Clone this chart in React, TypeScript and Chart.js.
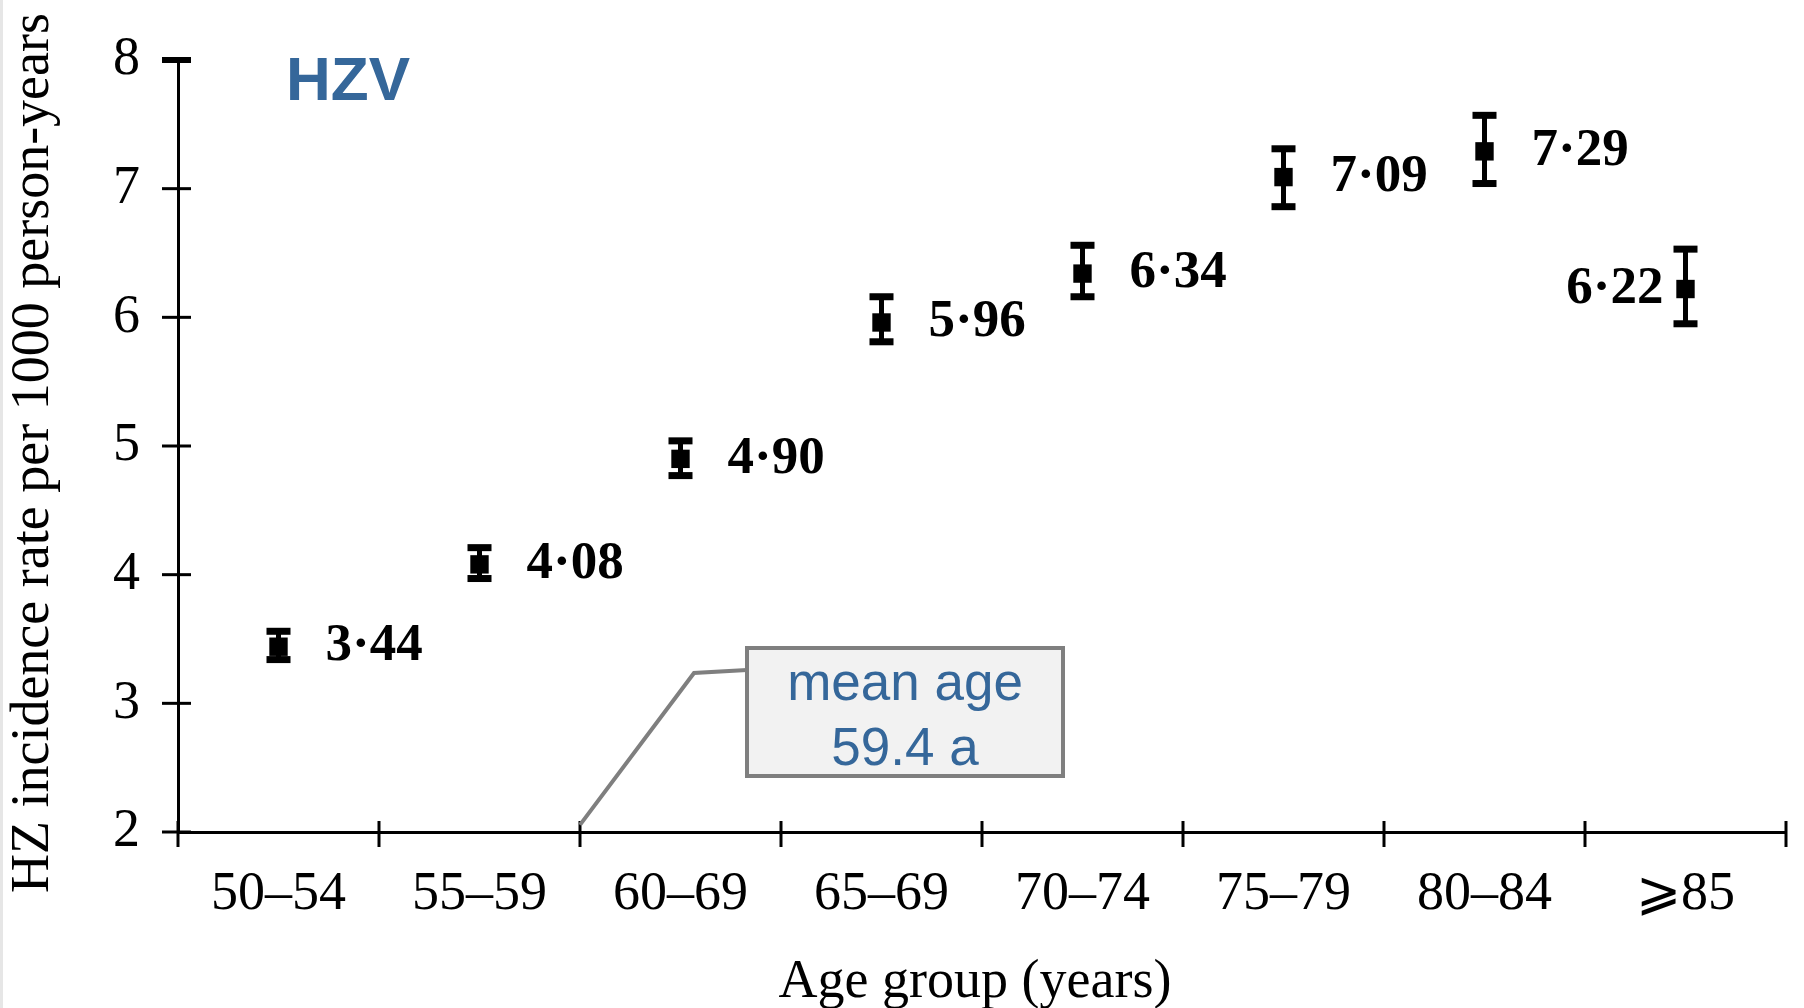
import { useEffect, useRef } from 'react';
import { Chart, registerables } from 'chart.js';

Chart.register(...registerables);

// Herpes zoster incidence per 1000 person-years by age group, with 95% CI
const ageGroups = ['50–54', '55–59', '60–69', '65–69', '70–74', '75–79', '80–84', '⩾85'];
const incidence = [3.44, 4.08, 4.90, 5.96, 6.34, 7.09, 7.29, 6.22];
const ciLower = [3.34, 3.97, 4.77, 5.81, 6.16, 6.86, 7.04, 5.95];
const ciUpper = [3.56, 4.21, 5.04, 6.16, 6.56, 7.31, 7.57, 6.53];
const yTickValues = [2, 3, 4, 5, 6, 7, 8];

const panelTitle = 'HZV';
const xTitle = 'Age group (years)';
const yTitle = 'HZ incidence rate per 1000 person-years';
const meanAgeLines = ['mean age', '59.4 a'];
// the callout points at the boundary between 55–59 and 60–69
const meanAgeCategoryPos = 1.5;

const SERIF = '"Liberation Serif", "Times New Roman", Times, serif';
const SANS = '"Liberation Sans", Arial, Helvetica, sans-serif';
const BLUE = '#35679a';
const CALLOUT_GREY = '#7f7f7f';

const formatRate = (v: number) => v.toFixed(2).replace('.', '\u00B7');

const figurePlugin = {
  id: 'figureDecorations',
  beforeDraw(chart: any) {
    const { ctx, width, height } = chart;
    ctx.save();
    ctx.fillStyle = '#ffffff';
    ctx.fillRect(0, 0, width, height);
    ctx.fillStyle = '#e6e6e6';
    ctx.fillRect(0, 0, 3, height);
    ctx.restore();
  },
  beforeDatasetsDraw(chart: any) {
    const { ctx, scales } = chart;
    const x = scales.x;
    const y = scales.y;
    ctx.save();
    ctx.strokeStyle = '#000';
    ctx.fillStyle = '#000';
    ctx.lineCap = 'butt';
    incidence.forEach((_, i) => {
      const px = x.getPixelForValue(i);
      const yLo = y.getPixelForValue(ciLower[i]);
      const yHi = y.getPixelForValue(ciUpper[i]);
      ctx.lineWidth = 5;
      ctx.beginPath();
      ctx.moveTo(px, yLo);
      ctx.lineTo(px, yHi);
      ctx.stroke();
      const capW = 24;
      const capH = 7;
      ctx.fillRect(px - capW / 2, yHi - capH / 2, capW, capH);
      ctx.fillRect(px - capW / 2, yLo - capH / 2, capW, capH);
    });
    ctx.restore();
  },
  afterDraw(chart: any) {
    const { ctx, chartArea, scales } = chart;
    const x = scales.x;
    const y = scales.y;
    ctx.save();

    // axis tick marks crossing the axis lines
    ctx.strokeStyle = '#000';
    ctx.lineCap = 'butt';
    y.ticks.forEach((t: any) => {
      const py = y.getPixelForValue(t.value);
      ctx.lineWidth = t.value === y.max ? 6 : 3;
      ctx.beginPath();
      ctx.moveTo(chartArea.left - 16, py);
      ctx.lineTo(chartArea.left + 13, py);
      ctx.stroke();
    });
    for (let i = 0; i <= ageGroups.length; i++) {
      const px = x.getPixelForValue(i - 0.5);
      ctx.lineWidth = 3;
      ctx.beginPath();
      ctx.moveTo(px, chartArea.bottom - 11);
      ctx.lineTo(px, chartArea.bottom + 15);
      ctx.stroke();
    }

    // value labels next to each estimate
    ctx.fillStyle = '#000';
    ctx.font = `bold 53px ${SERIF}`;
    ctx.textBaseline = 'middle';
    incidence.forEach((v, i) => {
      const px = x.getPixelForValue(i);
      const py = y.getPixelForValue(v);
      if (i === incidence.length - 1) {
        ctx.textAlign = 'right';
        ctx.fillText(formatRate(v), px - 22, py);
      } else {
        ctx.textAlign = 'left';
        ctx.fillText(formatRate(v), px + 47, py);
      }
    });

    // axis titles
    ctx.fillStyle = '#000';
    ctx.font = `54px ${SERIF}`;
    ctx.textAlign = 'center';
    ctx.textBaseline = 'alphabetic';
    ctx.fillText(xTitle, 975, 997);

    ctx.save();
    ctx.translate(48, 453);
    ctx.rotate(-Math.PI / 2);
    ctx.fillText(yTitle, 0, 0);
    ctx.restore();

    // panel title
    ctx.font = `bold 62px ${SANS}`;
    ctx.fillStyle = BLUE;
    ctx.textAlign = 'left';
    ctx.textBaseline = 'alphabetic';
    ctx.fillText(panelTitle, 286, 100);

    // mean-age callout
    const box = { left: 747, top: 648, width: 316, height: 128 };
    const tipX = x.getPixelForValue(meanAgeCategoryPos);
    const tipY = y.getPixelForValue(2.055);
    ctx.strokeStyle = CALLOUT_GREY;
    ctx.lineWidth = 4;
    ctx.lineJoin = 'miter';
    ctx.beginPath();
    ctx.moveTo(tipX, tipY);
    ctx.lineTo(694, 673);
    ctx.lineTo(box.left, 670);
    ctx.stroke();

    ctx.fillStyle = '#f2f2f2';
    ctx.fillRect(box.left, box.top, box.width, box.height);
    ctx.strokeRect(box.left, box.top, box.width, box.height);

    ctx.fillStyle = BLUE;
    ctx.font = `53px ${SANS}`;
    ctx.textAlign = 'center';
    ctx.textBaseline = 'alphabetic';
    const cx = box.left + box.width / 2;
    ctx.fillText(meanAgeLines[0], cx, 700);
    ctx.fillText(meanAgeLines[1], cx, 765);

    ctx.restore();
  },
};

export default function App() {
  const canvasRef = useRef<HTMLCanvasElement | null>(null);

  useEffect(() => {
    const canvas = canvasRef.current;
    if (!canvas) return;

    const chart = new Chart(canvas, {
      type: 'line',
      data: {
        labels: ageGroups,
        datasets: [
          {
            label: 'HZ incidence',
            data: incidence,
            showLine: false,
            pointStyle: 'rect',
            pointRadius: 13,
            pointHoverRadius: 13,
            pointBackgroundColor: '#000',
            pointBorderColor: '#000',
            pointBorderWidth: 0,
            clip: false as any,
          },
        ],
      },
      options: {
        responsive: false,
        maintainAspectRatio: false,
        devicePixelRatio: 1,
        animation: false,
        events: [],
        layout: { padding: { top: 60, right: 18, left: 0, bottom: 0 } },
        plugins: {
          legend: { display: false },
          tooltip: { enabled: false },
        },
        scales: {
          x: {
            type: 'category',
            offset: true,
            grid: { display: false, drawTicks: false },
            border: { display: true, color: '#000', width: 3 },
            ticks: {
              color: '#000',
              font: { family: SERIF, size: 54 },
              padding: 30,
              maxRotation: 0,
              autoSkip: false,
            },
            afterFit: (scale: any) => {
              scale.height = 176;
              scale.paddingLeft = 0;
              scale.paddingRight = 0;
            },
          },
          y: {
            type: 'linear',
            min: 2,
            max: 8,
            grid: { display: false, drawTicks: false },
            border: { display: true, color: '#000', width: 3 },
            ticks: {
              color: '#000',
              font: { family: SERIF, size: 54 },
              padding: 38,
            },
            afterBuildTicks: (scale: any) => {
              scale.ticks = yTickValues.map((v) => ({ value: v }));
            },
            afterFit: (scale: any) => {
              scale.width = 178;
              scale.paddingTop = 0;
              scale.paddingBottom = 0;
            },
          },
        },
      },
      plugins: [figurePlugin],
    });

    return () => chart.destroy();
  }, []);

  return (
    <div
      style={{
        position: 'fixed',
        left: 0,
        top: 0,
        width: 1804,
        height: 1008,
        background: '#fff',
      }}
    >
      <canvas
        ref={canvasRef}
        width={1804}
        height={1008}
        style={{ display: 'block', width: 1804, height: 1008 }}
      />
    </div>
  );
}
